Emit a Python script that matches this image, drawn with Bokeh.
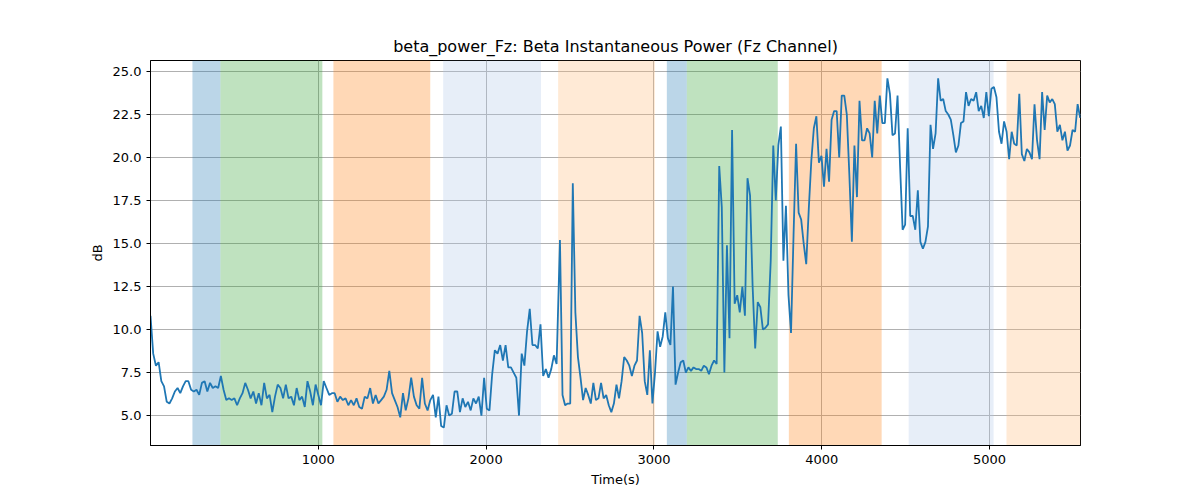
import numpy as np
from bokeh.plotting import figure
from bokeh.models import Range1d, FixedTicker, CustomJSTickFormatter
from bokeh.embed import file_html
from bokeh.resources import INLINE

# shaded epochs: start, end, colour, alpha
span_start = [250, 417, 1090, 1744, 2429, 3077, 3196, 3804, 4518, 5101]
span_end = [417, 1024, 1667, 2327, 3006, 3196, 3738, 4357, 5024, 5542]
span_color = ["#1f77b4", "#2ca02c", "#ff7f0e", "#aec7e8", "#ffbb78",
              "#1f77b4", "#2ca02c", "#ff7f0e", "#aec7e8", "#ffbb78"]
span_alpha = [0.3, 0.3, 0.3, 0.3, 0.3, 0.3, 0.3, 0.3, 0.3, 0.3]

# beta power (dB), segments
seg_a_t = (0, 1000)
seg_a = [10.8, 8.6, 7.9, 8.1, 7.0, 6.7, 5.8, 5.7, 6.0, 6.4, 6.6, 6.3, 6.7, 7.0, 7.0, 6.5,
         6.4, 6.5, 6.2, 6.9, 7.0, 6.4, 6.9, 6.6, 6.7, 6.6, 7.3, 6.5, 5.9, 6.0, 5.9, 6.0,
         5.6, 6.0, 6.3, 6.9, 6.5, 6.0, 6.4, 5.7, 6.3, 5.6, 6.9, 6.0, 6.2, 5.2, 6.1, 6.8,
         6.6, 6.0, 6.8, 6.0, 6.1, 5.6, 6.6, 5.9, 6.1, 5.5, 7.0, 6.4, 5.6, 6.8, 6.2]
seg_b_t = (1016, 1700)
seg_b = [5.6, 7.0, 6.6, 6.2, 6.3, 6.3, 5.8, 6.1, 5.9, 6.0, 5.6, 5.9, 5.6, 6.0, 5.5, 5.4,
         6.1, 6.0, 6.6, 5.7, 6.2, 5.7, 5.9, 6.1, 6.5, 7.6, 6.3, 5.9, 5.5, 4.9, 6.3, 5.3,
         6.0, 7.2, 6.1, 5.6, 5.4, 7.2, 5.7, 5.3, 5.9, 6.2, 4.9]
seg_c_t = (1716, 2420)
seg_c = [6.1, 4.4, 4.3, 5.6, 5.0, 5.1, 6.4, 6.4, 5.2, 6.0, 5.5, 5.8, 5.3, 6.0, 5.7, 6.1,
         5.0, 7.2, 5.4, 5.3, 7.4, 8.8, 8.6, 9.1, 8.2, 9.1, 7.8, 7.8, 7.5, 7.2, 5.0, 8.6,
         7.9, 9.9, 11.2, 9.1, 9.1, 8.9, 10.3, 7.3, 7.7, 7.2, 7.7, 8.5, 8.0]
seg_d_t = (2440, 3680)
seg_d = [15.2, 6.2, 5.6, 5.7, 5.7, 18.5, 11.0, 8.4, 7.2, 5.9, 6.6, 6.2, 5.7, 6.9, 5.9,
         6.0, 6.9, 6.0, 6.2, 5.6, 5.2, 5.7, 6.8, 6.0, 7.0, 8.4, 8.2, 7.9, 7.3, 7.9, 8.2,
         10.8, 9.8, 7.0, 6.2, 8.8, 5.7, 7.5, 9.9, 9.0, 9.6, 11.0, 9.5, 9.1, 12.5, 6.8,
         7.5, 8.1, 8.2, 7.5, 7.8, 7.6, 7.8, 7.7, 7.7, 7.6, 7.9, 7.8, 7.4, 7.9, 8.2, 8.0,
         19.5, 17.1, 7.5, 14.9, 9.5, 21.6, 11.5, 12.0, 11.0, 12.5, 10.8, 18.8, 17.8, 12.5,
         8.9, 11.6, 11.3, 10.0, 10.1, 10.3]
seg_e_t = (3696, 5540)
seg_e = [14.0, 20.7, 17.5, 20.7, 21.8, 14.0, 17.2, 12.0, 9.8, 15.5, 20.8, 16.8, 16.4,
         15.0, 13.8, 17.0, 19.8, 21.7, 22.4, 19.7, 20.1, 18.3, 20.5, 18.6, 22.2, 22.7,
         22.7, 20.0, 23.6, 23.6, 22.5, 19.0, 15.1, 20.7, 17.7, 23.3, 21.0, 21.0, 21.7,
         21.4, 20.0, 23.3, 21.4, 23.6, 22.0, 22.0, 24.6, 23.7, 21.3, 21.4, 23.6, 19.5,
         15.8, 16.1, 21.7, 16.6, 16.6, 15.8, 18.1, 15.1, 14.7, 15.1, 16.0, 21.9, 20.5,
         21.4, 24.6, 23.3, 23.4, 22.7, 22.5, 22.2, 21.3, 20.3, 20.7, 22.0, 22.1, 23.8,
         23.0, 23.4, 23.3, 23.8, 22.7, 23.0, 22.3, 23.8, 22.4, 24.0, 24.1, 23.5, 21.5,
         20.8, 22.1, 21.5, 19.9, 21.5, 20.8, 20.7, 23.7, 20.2, 19.8, 20.5, 20.3, 19.9,
         23.1, 21.0, 19.9, 23.8, 21.6, 23.6, 23.2, 23.4, 23.1, 21.5, 21.9, 21.0, 21.5,
         20.4, 20.7, 21.6, 21.5, 23.1, 22.3]

t = np.concatenate([np.linspace(a, b, len(s)) for (a, b), s in
                    [(seg_a_t, seg_a), (seg_b_t, seg_b), (seg_c_t, seg_c),
                     (seg_d_t, seg_d), (seg_e_t, seg_e)]])
db = np.concatenate([seg_a, seg_b, seg_c, seg_d, seg_e])

p = figure(width=1184, height=484, output_backend="svg", toolbar_location=None,
           title="beta_power_Fz: Beta Instantaneous Power (Fz Channel)",
           x_axis_label="Time(s)", y_axis_label="dB",
           x_range=Range1d(0, 5542), y_range=Range1d(3.26, 25.64),
           min_border_left=150, min_border_right=104, min_border_top=60,
           min_border_bottom=39)
p.frame_width = 930
p.frame_height = 385

p.quad(left=span_start, right=span_end, bottom=3.26, top=25.64,
       fill_color=span_color, fill_alpha=span_alpha, line_color=None)
p.line(t, db, line_color="#1f77b4", line_width=1.8)

p.title.align = "center"
p.title.text_font = "DejaVu Sans"
p.title.text_font_size = "16px"
p.title.text_font_style = "normal"
p.title.text_color = "black"
p.xaxis.ticker = FixedTicker(ticks=[1000, 2000, 3000, 4000, 5000])
p.yaxis.ticker = FixedTicker(ticks=[5, 7.5, 10, 12.5, 15, 17.5, 20, 22.5, 25])
p.yaxis.formatter = CustomJSTickFormatter(code="return tick.toFixed(1);")
for ax in [p.xaxis, p.yaxis]:
    ax.major_label_text_font = "DejaVu Sans"
    ax.major_label_text_font_size = "13px"
    ax.major_label_text_color = "black"
    ax.axis_label_text_font = "DejaVu Sans"
    ax.axis_label_text_font_size = "13px"
    ax.axis_label_text_font_style = "normal"
    ax.axis_label_text_color = "black"
    ax.minor_tick_line_color = None
    ax.major_tick_out = 4
    ax.major_tick_in = 0
    ax.axis_line_color = "black"
p.grid.grid_line_color = "#b0b0b0"
p.grid.grid_line_width = 1
p.outline_line_color = "black"

open("out.html", "w").write(file_html(p, INLINE))
